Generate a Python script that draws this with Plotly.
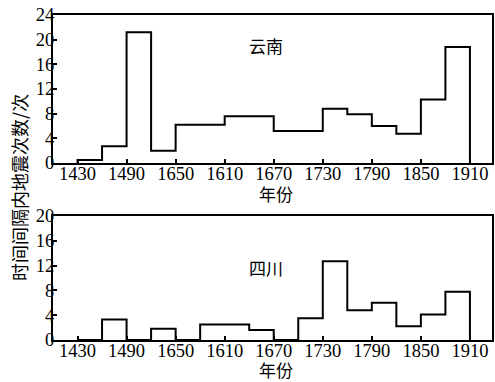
import plotly.graph_objects as go
from plotly.subplots import make_subplots

bin_start = [1430, 1460, 1490, 1520, 1550, 1580, 1610, 1640,
             1670, 1700, 1730, 1760, 1790, 1820, 1850, 1880]
bin_width = 30
yunnan = [0.5, 2.7, 21.2, 2.0, 6.2, 6.2, 7.6, 7.6,
          5.2, 5.2, 8.8, 7.9, 6.0, 4.75, 10.3, 18.8]
sichuan = [0, 3.3, 0, 1.8, 0, 2.5, 2.5, 1.6,
           0, 3.5, 12.7, 4.8, 6.0, 2.2, 4.1, 7.8]
tick_vals = [1430, 1490, 1550, 1610, 1670, 1730, 1790, 1850, 1910]
tick_text = ["1430", "1490", "1650", "1610", "1670", "1730", "1790", "1850", "1910"]
labels = ["云南", "四川"]

SERIF = "Liberation Serif, Times New Roman, serif"
CJK = "Noto Sans CJK SC"


def step_xy(starts, vals):
    xs = [starts[0]] + list(starts) + [starts[-1] + bin_width, starts[-1] + bin_width]
    ys = [0] + list(vals) + [vals[-1], 0]
    return xs, ys


fig = make_subplots(rows=2, cols=1)
for i, vals in enumerate([yunnan, sichuan]):
    xs, ys = step_xy(bin_start, vals)
    fig.add_trace(go.Scatter(x=xs, y=ys, mode="lines", line_shape="hv",
                             line=dict(color="black", width=2),
                             showlegend=False, hoverinfo="skip"),
                  row=i + 1, col=1)

axis_common = dict(showline=True, linecolor="black", linewidth=2, mirror=True,
                   ticks="inside", ticklen=4, tickcolor="black", tickwidth=1.5,
                   showgrid=False, zeroline=False, automargin=False,
                   ticklabelstandoff=-7,
                   tickfont=dict(family=SERIF, size=18.5, color="black"))

fig.update_layout(
    width=495, height=382,
    margin=dict(l=53, r=3, t=15, b=42, autoexpand=False),
    paper_bgcolor="white", plot_bgcolor="white",
    xaxis=dict(domain=[0, 1], range=[1400, 1937], tickvals=tick_vals, ticktext=tick_text, **axis_common),
    xaxis2=dict(domain=[0, 1], range=[1400, 1937], tickvals=tick_vals, ticktext=tick_text, **axis_common),
    yaxis=dict(domain=[0.5446, 1], range=[0, 24], tickvals=[0, 4, 8, 12, 16, 20, 24], **axis_common),
    yaxis2=dict(domain=[0, 0.3815], range=[0, 20], tickvals=[0, 4, 8, 12, 16, 20], **axis_common),
)

ann_font = dict(family=CJK, size=17, color="black")
fig.add_annotation(text=labels[0], xref="x", yref="y", x=1637, y=19.1,
                   xanchor="left", yanchor="middle", showarrow=False, font=ann_font)
fig.add_annotation(text=labels[1], xref="x2", yref="y2", x=1637, y=11.7,
                   xanchor="left", yanchor="middle", showarrow=False, font=ann_font)
xt_font = dict(family=CJK, size=17, color="black")
fig.add_annotation(text="年份", xref="paper", yref="paper", x=0.508, y=0.5446,
                   yshift=-30, xanchor="center", yanchor="middle", showarrow=False, font=xt_font)
fig.add_annotation(text="年份", xref="paper", yref="paper", x=0.508, y=0,
                   yshift=-29, xanchor="center", yanchor="middle", showarrow=False, font=xt_font)
fig.add_annotation(text="时间间隔内地震次数/次", xref="paper", yref="paper",
                   x=0, xshift=-34, y=0.468, textangle=-90,
                   xanchor="center", yanchor="middle", showarrow=False,
                   font=dict(family=CJK, size=18, color="black"))

fig.write_html("out.html", config={"displayModeBar": False},
               post_script="document.body.style.margin='0';document.body.style.overflow='hidden';")
